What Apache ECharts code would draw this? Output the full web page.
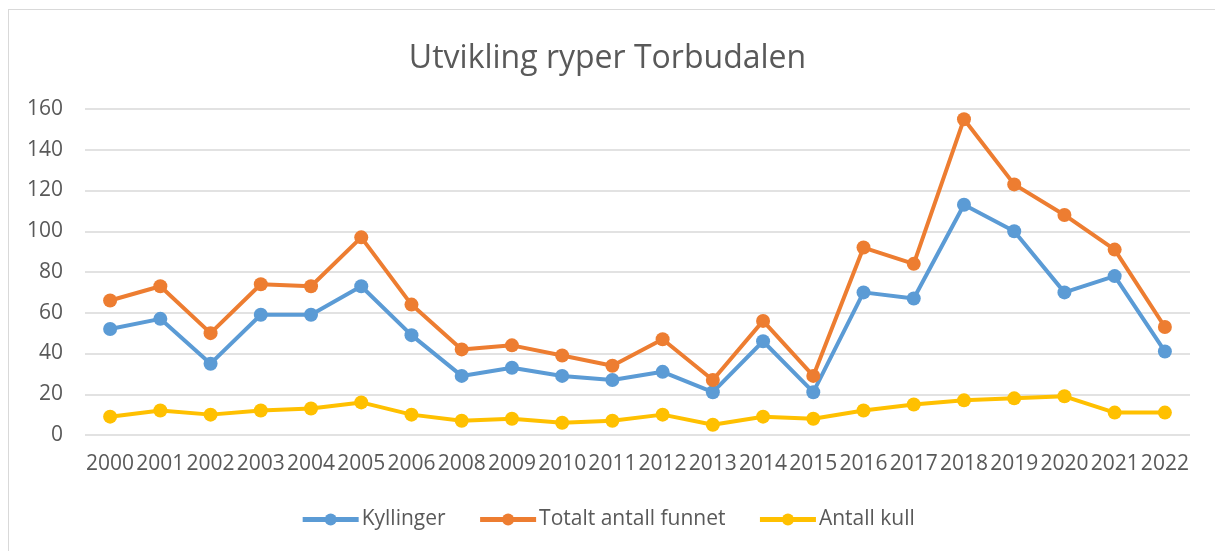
<!DOCTYPE html>
<html>
<head>
<meta charset="utf-8">
<script src="https://cdn.jsdelivr.net/npm/echarts@6/dist/echarts.min.js"></script>
<style>
  html, body { margin: 0; padding: 0; background: #fff; }
  #frame { position: absolute; left: 8px; top: 9px; width: 1215px; height: 560px; border: 1px solid #d9d9d9; box-sizing: border-box; }
  #chart { position: absolute; left: 0; top: 0; width: 1215px; height: 551px; }
</style>
</head>
<body>
<div id="frame"></div>
<div id="chart"></div>
<script>
// år (2007 mangler i kilden)
const years = ['2000', '2001', '2002', '2003', '2004', '2005', '2006', '2008', '2009', '2010', '2011',
  '2012', '2013', '2014', '2015', '2016', '2017', '2018', '2019', '2020', '2021', '2022']
const kyllinger = [52, 57, 35, 59, 59, 73, 49, 29, 33, 29, 27, 31, 21, 46, 21, 70, 67, 113, 100, 70, 78, 41]
const totalt = [66, 73, 50, 74, 73, 97, 64, 42, 44, 39, 34, 47, 27, 56, 29, 92, 84, 155, 123, 108, 91, 53]
const kull = [9, 12, 10, 12, 13, 16, 10, 7, 8, 6, 7, 10, 5, 9, 8, 12, 15, 17, 18, 19, 11, 11]

const fontName = 'Open Sans'
const textColor = '#595959'

const chart = echarts.init(document.getElementById('chart'))

function lineSeries(name, data, color) {
  return {
    name: name,
    type: 'line',
    data: data,
    symbol: 'circle',
    symbolSize: 14,
    lineStyle: { width: 4, color: color },
    itemStyle: { color: color },
    emphasis: { disabled: true }
  }
}

chart.setOption({
  animation: false,
  title: {
    text: 'Utvikling ryper Torbudalen',
    left: 'center',
    top: 38,
    textStyle: { fontFamily: fontName, fontSize: 32, fontWeight: 'normal', color: textColor }
  },
  legend: {
    bottom: 16,
    left: 'center',
    itemWidth: 56,
    itemHeight: 15,
    itemGap: 32,
    lineStyle: { width: 5 },
    textStyle: { fontFamily: fontName, fontSize: 21, color: textColor, padding: [0, 0, 0, -2] },
    data: ['Kyllinger', 'Totalt antall funnet', 'Antall kull']
  },
  grid: { left: 85, right: 25, top: 109, bottom: 116 },
  xAxis: {
    type: 'category',
    data: years,
    axisLine: { show: false },
    axisTick: { show: false },
    axisLabel: { interval: 0, margin: 19, fontFamily: fontName, fontSize: 21, color: textColor }
  },
  yAxis: {
    type: 'value',
    min: 0,
    max: 160,
    interval: 20,
    axisLabel: { margin: 22, fontFamily: fontName, fontSize: 21, color: textColor },
    splitLine: { lineStyle: { color: '#d9d9d9', width: 1.5 } }
  },
  series: [
    lineSeries('Kyllinger', kyllinger, '#5b9bd5'),
    lineSeries('Totalt antall funnet', totalt, '#ed7d31'),
    lineSeries('Antall kull', kull, '#ffc000')
  ]
})
</script>
</body>
</html>
